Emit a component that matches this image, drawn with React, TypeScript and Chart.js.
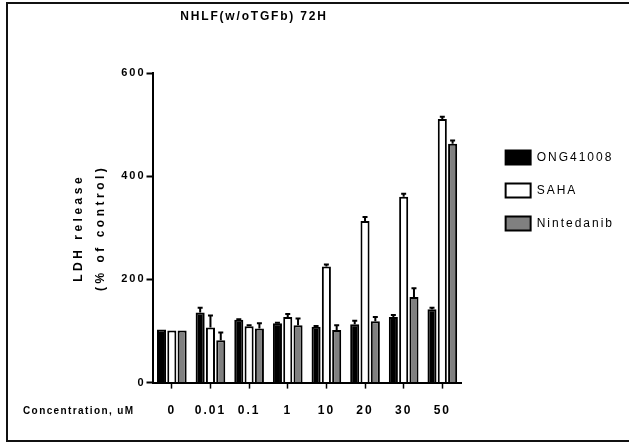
import React, { useEffect, useRef } from 'react';
import { Chart, registerables } from 'chart.js';

Chart.register(...registerables);

const categories = ['0', '0.01', '0.1', '1', '10', '20', '30', '50'];
const seriesNames = ['ONG41008', 'SAHA', 'Nintedanib'];
const ongValues = [103, 136, 122, 115, 108, 113, 127, 142];
const ongErrors = [0, 9, 1, 1, 1.5, 7, 4, 3];
const sahaValues = [101, 107, 109, 127, 225, 313, 360, 511];
const sahaErrors = [0, 23, 2, 6, 4, 8, 6, 4];
const nintValues = [101, 82, 105, 111, 102, 119, 166, 463];
const nintErrors = [0, 15, 10, 13, 9, 8, 17, 6];
const yTicks = [0, 200, 400, 600];
const chartTitle = 'NHLF(w/oTGFb) 72H';
const xAxisLabel = 'Concentration, uM';
const yAxisLabel = ['LDH release', '(% of control)'];

const FONT = 'Arial, "Liberation Sans", Helvetica, sans-serif';

const errorBarPlugin = {
  id: 'errorBars',
  afterDatasetsDraw(chart: any) {
    const ctx = chart.ctx;
    const yScale = chart.scales.y;
    chart.data.datasets.forEach((ds: any, di: number) => {
      const meta = chart.getDatasetMeta(di);
      const errs: number[] = ds.errors || [];
      meta.data.forEach((bar: any, i: number) => {
        const e = errs[i];
        if (!e) return;
        const v = ds.data[i];
        const yTop = yScale.getPixelForValue(v + e);
        const x = bar.x;
        ctx.save();
        ctx.strokeStyle = '#000';
        ctx.lineWidth = 2;
        ctx.beginPath();
        ctx.moveTo(x, bar.y);
        ctx.lineTo(x, yTop);
        ctx.moveTo(x - 2.5, yTop);
        ctx.lineTo(x + 2.5, yTop);
        ctx.stroke();
        ctx.restore();
      });
    });
  },
};

const textPlugin = {
  id: 'extraText',
  beforeLayout(chart: any) {
    chart.ctx.letterSpacing = '2px';
  },
  beforeDraw(chart: any) {
    chart.ctx.letterSpacing = '2px';
    const ys = chart.scales.y;
    if (ys && !ys.__patched) {
      const orig = ys.drawTitle.bind(ys);
      ys.drawTitle = function () {
        const c = chart.ctx;
        c.save();
        c.letterSpacing = '3.5px';
        orig();
        c.restore();
      };
      ys.__patched = true;
    }
  },
  afterDraw(chart: any) {
    const ctx = chart.ctx;
    ctx.save();
    ctx.fillStyle = '#000';
    ctx.letterSpacing = '1.8px';
    ctx.font = `bold 12px ${FONT}`;
    ctx.textAlign = 'center';
    ctx.textBaseline = 'middle';
    ctx.fillText(chartTitle, 254, 17);
    ctx.letterSpacing = '1.4px';
    ctx.font = `bold 10px ${FONT}`;
    ctx.textAlign = 'left';
    ctx.fillText(xAxisLabel, 23, 411);
    ctx.restore();
  },
};

export default function App() {
  const canvasRef = useRef<HTMLCanvasElement | null>(null);

  useEffect(() => {
    const canvas = canvasRef.current;
    if (!canvas) return;
    Chart.defaults.font.family = FONT;
    const chart = new Chart(canvas, {
      type: 'bar',
      data: {
        labels: categories,
        datasets: [
          {
            label: seriesNames[0],
            data: ongValues,
            errors: ongErrors,
            backgroundColor: '#000000',
            borderColor: '#000000',
            borderWidth: 2,
            categoryPercentage: 0.8,
            barPercentage: 0.88,
          } as any,
          {
            label: seriesNames[1],
            data: sahaValues,
            errors: sahaErrors,
            backgroundColor: '#ffffff',
            borderColor: '#000000',
            borderWidth: 2,
            categoryPercentage: 0.8,
            barPercentage: 0.88,
          } as any,
          {
            label: seriesNames[2],
            data: nintValues,
            errors: nintErrors,
            backgroundColor: '#808080',
            borderColor: '#000000',
            borderWidth: 2,
            categoryPercentage: 0.8,
            barPercentage: 0.88,
          } as any,
        ],
      },
      options: {
        responsive: false,
        maintainAspectRatio: false,
        animation: false,
        events: [],
        layout: { padding: { left: 8, top: 73, right: 5, bottom: 14 } },
        plugins: {
          title: { display: false },
          tooltip: { enabled: false },
          legend: {
            position: 'right',
            align: 'start',
            maxWidth: 160,
            title: {
              display: true,
              text: ' ',
              padding: { top: 44, bottom: 0 },
              font: { size: 12 },
            },
            labels: {
              boxWidth: 25,
              boxHeight: 14,
              padding: 19,
              color: '#000',
              font: { size: 12 },
            },
          },
        },
        scales: {
          x: {
            grid: {
              display: true,
              drawOnChartArea: false,
              offset: false,
              tickLength: 6,
              tickWidth: 1.5,
              tickColor: '#000',
            },
            border: { display: true, color: '#000', width: 2 },
            ticks: {
              color: '#000',
              padding: 15,
              maxRotation: 0,
              font: { size: 12, weight: 'bold' },
            },
          },
          y: {
            min: yTicks[0],
            max: yTicks[yTicks.length - 1],
            afterBuildTicks: (axis: any) => {
              axis.ticks = yTicks.map((v) => ({ value: v }));
            },
            afterFit: (s: any) => {
              s.width = 144.5;
            },
            ticks: {
              color: '#000',
              padding: 1,
              font: { size: 11, weight: 'bold' },
            },
            grid: {
              drawOnChartArea: false,
              tickLength: 6,
              tickWidth: 2,
              tickColor: '#000',
            },
            border: { color: '#000', width: 2 },
            title: {
              display: true,
              text: yAxisLabel,
              color: '#000',
              font: { size: 12, weight: 'bold', lineHeight: 1.833 },
              padding: { top: 60, bottom: 9 },
            },
          },
          spacer: {
            type: 'linear',
            position: 'right',
            display: true,
            grid: { display: false },
            border: { display: false },
            ticks: { display: false },
            afterFit: (s: any) => {
              s.width = 25;
            },
          },
        },
      } as any,
      plugins: [errorBarPlugin, textPlugin],
    });
    return () => chart.destroy();
  }, []);

  return (
    <div
      style={{
        position: 'fixed',
        left: 0,
        top: 0,
        width: 629,
        height: 447,
        overflow: 'hidden',
        background: '#fff',
      }}
    >
      <div
        style={{
          position: 'absolute',
          left: 6,
          top: 2,
          width: 700,
          height: 440,
          boxSizing: 'border-box',
          border: '2px solid #111',
        }}
      />
      <canvas
        ref={canvasRef}
        width={629}
        height={447}
        style={{ position: 'absolute', left: 0, top: 0, width: 629, height: 447 }}
      />
    </div>
  );
}
